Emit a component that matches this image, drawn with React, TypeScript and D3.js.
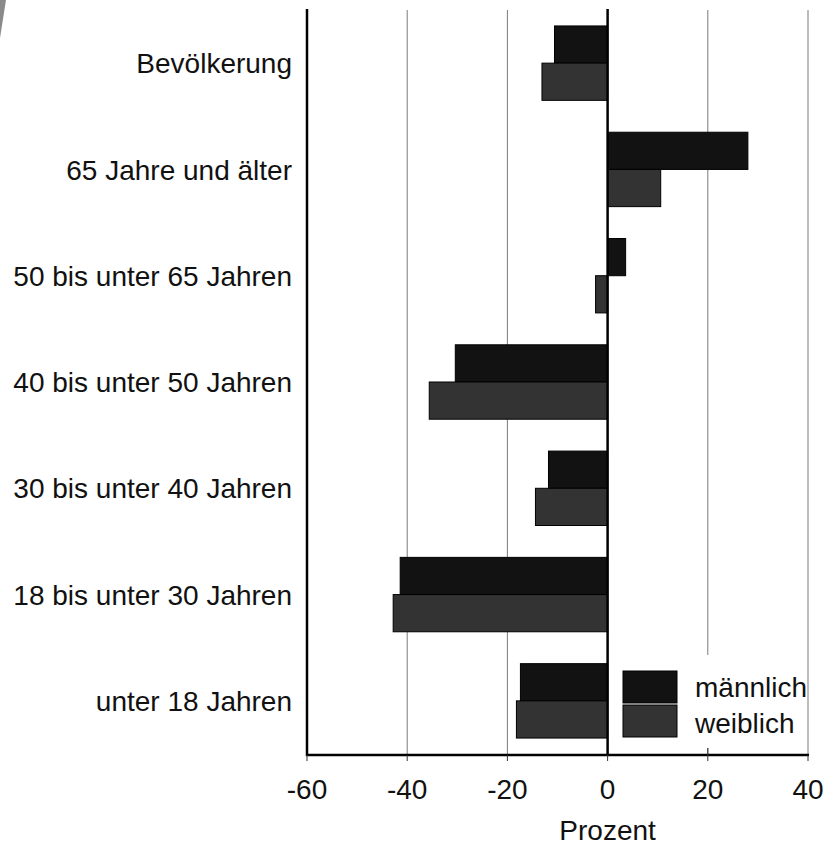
import React from 'react';
import * as d3 from 'd3';

const categories = [
  'Bevölkerung',
  '65 Jahre und älter',
  '50 bis unter 65 Jahren',
  '40 bis unter 50 Jahren',
  '30 bis unter 40 Jahren',
  '18 bis unter 30 Jahren',
  'unter 18 Jahren',
];
const maennlich = [-10.6, 28.0, 3.6, -30.4, -11.8, -41.4, -17.4];
const weiblich = [-13.1, 10.6, -2.4, -35.6, -14.4, -42.8, -18.2];
const seriesNames = ['männlich', 'weiblich'];
const seriesColors = ['#121212', '#333333'];
const xTicks = [-60, -40, -20, 0, 20, 40];

const W = 827;
const H = 847;
const font = '"Liberation Sans", Arial, sans-serif';
const fs = 28;

const App: React.FC = () => {
  const x = d3.scaleLinear().domain([-60, 40]).range([307, 808]);
  const y = d3.scaleBand<string>().domain(categories).range([10, 754]).paddingInner(0.3).paddingOuter(0.15);
  const inner = d3.scaleBand<string>().domain(seriesNames).range([0, y.bandwidth()]);
  const values = [maennlich, weiblich];
  const axisY = 755;

  return (
    <svg width={W} height={H} style={{ position: 'absolute', left: 0, top: 0, background: '#fff' }} fontFamily={font}>
      {/* scanned page edge */}
      <polygon points="0,0 6,0 0,38" fill="#8a8a8a" />

      {/* grid lines */}
      {xTicks.filter(t => t !== 0 && t !== -60).map(t => (
        <line key={'g' + t} x1={x(t)} x2={x(t)} y1={10} y2={axisY} stroke="#7a7a7a" strokeWidth={1} />
      ))}

      {/* bars */}
      {categories.map((c, i) => (
        <g key={c}>
          {values.map((vals, s) => {
            const v = vals[i];
            return (
              <rect
                key={s}
                x={Math.min(x(0), x(v))}
                y={(y(c) as number) + (inner(seriesNames[s]) as number)}
                width={Math.abs(x(v) - x(0))}
                height={inner.bandwidth()}
                fill={seriesColors[s]}
                stroke="#000"
                strokeWidth={1}
              />
            );
          })}
          <text
            x={292}
            y={(y(c) as number) + y.bandwidth() / 2}
            dy="0.36em"
            textAnchor="end"
            fontSize={fs}
            fill="#111"
          >
            {c}
          </text>
        </g>
      ))}

      {/* zero line */}
      <line x1={x(0)} x2={x(0)} y1={9} y2={axisY} stroke="#000" strokeWidth={2.5} />

      {/* legend */}
      <rect x={612} y={655} width={194} height={93} fill="#fff" />
      {seriesNames.map((n, s) => (
        <g key={n}>
          <rect x={623} y={671 + s * 34} width={54} height={32} fill={seriesColors[s]} stroke="#000" strokeWidth={1} />
          <text x={695} y={697 + s * 36} fontSize={fs} fill="#111">{n}</text>
        </g>
      ))}

      {/* axes */}
      <line x1={x(-60)} x2={x(-60)} y1={9} y2={axisY + 1} stroke="#000" strokeWidth={2.5} />
      <line x1={x(-60) - 1} x2={x(40) + 1} y1={axisY} y2={axisY} stroke="#000" strokeWidth={2.5} />
      {xTicks.map(t => (
        <g key={'t' + t}>
          <line x1={x(t)} x2={x(t)} y1={axisY - (t === 20 ? 7 : 0)} y2={axisY + 6} stroke="#333" strokeWidth={1} />
          <text x={x(t)} y={799} textAnchor="middle" fontSize={fs} fill="#111">{t}</text>
        </g>
      ))}
      <text x={x(0)} y={840} textAnchor="middle" fontSize={fs} fill="#111">Prozent</text>
    </svg>
  );
};

export default App;
